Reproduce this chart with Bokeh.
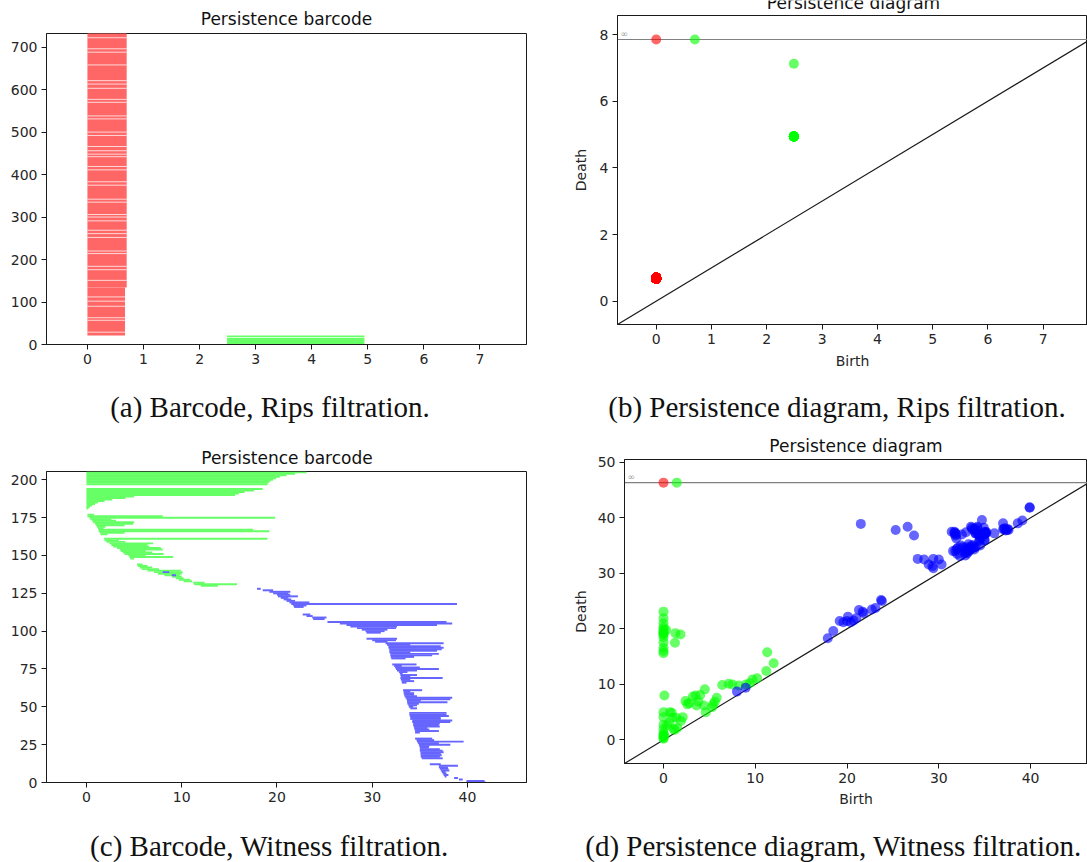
from bokeh.plotting import figure
from bokeh.layouts import row, column
from bokeh.models import Range1d, FixedTicker, Label, LinearAxis
from bokeh.core.properties import value
from bokeh.embed import file_html
from bokeh.resources import INLINE

# ---------------- colours ----------------
RED, GREEN, BLUE = "#ff0000", "#00ff00", "#0000ff"
RED_BAR, GREEN_BAR, BLUE_BAR = "#ff6666", "#66ff66", "#6666ff"   # alpha 0.6 on white
INK = "#1a1a1a"
TICK_TXT = "#262626"

# ---------------- Rips filtration ----------------
# H0 bars (born at 0): runs of consecutive bar indices sharing one death value
rips_h0_lo = [21, 134]
rips_h0_hi = [134, 733]
rips_h0_death = [0.67, 0.70]
# thin light seams visible between groups of H0 bars
rips_h0_seams = [722, 696, 688, 658, 621, 613, 603, 577, 570, 538, 531, 500, 492,
                 466, 456, 448, 442, 419, 411, 383, 375, 342, 335, 306, 300, 291,
                 269, 261, 252, 220, 214, 184, 176, 151, 112, 102, 90, 63, 57, 29]
# H1 bars in the barcode
rips_h1_lo = [0]
rips_h1_hi = [21]
rips_h1_birth = [2.49]
rips_h1_death = [4.94]
rips_h1_seams = [16.5]
# H1 diagram points and their multiplicity
rips_pt_birth = [2.49, 2.49]
rips_pt_death = [4.94, 7.12]
rips_pt_count = [21, 1]
# essential classes (plotted on the infinity line)
rips_inf_h0 = [0.0]
rips_inf_h1 = [0.70]
rips_infinity = 7.85

# ---------------- Witness filtration ----------------
# H1 bars: index, birth, death
w1_row = [205, 204, 203, 202, 201, 200, 199, 198, 197,
          194, 193, 192, 191, 190, 189, 188, 187, 186, 185, 184, 183, 182, 181,
          177, 176, 175, 174, 173, 172, 171, 170, 169, 168, 167, 166, 165, 164, 161,
          160, 159, 158, 157, 156, 155, 154, 153, 152, 151, 150, 149, 148,
          144, 143, 142, 141, 140, 139, 138, 137, 136, 135, 134, 133, 132, 131, 130]
w1_birth = [0, 0, 0, 0, 0, 0, 0, 0, 0,
            0, 0, 0, 0, 0, 0, 0, 0, 0, 0, 0, 0, 0, 0,
            0.1, 0.1, 0.3, 0.4, 0.6, 0.7, 0.9, 1.0, 1.1, 1.2, 1.25, 1.3, 1.4, 1.5, 1.85,
            1.9, 2.1, 2.4, 2.6, 2.8, 3.2, 3.5, 3.6, 3.8, 4.0, 4.4, 4.5, 4.6,
            5.3, 5.4, 5.6, 5.8, 6.4, 7.1, 7.5, 8.2, 9.0, 9.4, 9.7, 10.2, 11.2, 11.3, 12.0]
w1_death = [23.1, 21.9, 21.0, 20.3, 19.9, 19.6, 19.3, 19.1, 19.0,
            18.5, 17.6, 16.6, 16.0, 15.6, 5.0, 4.1, 2.7, 1.9, 1.2, 0.9, 0.6, 0.35, 0.2,
            0.8, 8.0, 19.8, 2.6, 3.1, 5.0, 4.9, 4.0, 2.0, 1.8, 17.5, 19.2, 4.0, 2.2, 19.0,
            3.4, 4.1, 7.0, 6.4, 6.6, 7.8, 8.0, 6.2, 6.9, 8.1, 6.2, 9.1, 5.0,
            5.9, 6.4, 6.9, 7.6, 9.9, 10.1, 10.0, 9.8, 10.0, 10.2, 10.9, 11.1, 12.4, 15.8, 13.8]

# H2 bars: index, birth, death
w2_row = [139, 137,
          128, 127, 126, 125, 124, 123, 122, 121, 120, 119, 118, 117, 116,
          111, 110, 109, 108,
          106, 105, 104, 103, 102, 101, 100, 99,
          95, 94, 93, 92, 91, 90, 89, 88, 87, 86, 85, 84, 83, 82,
          78, 77, 76, 75, 74, 73, 72, 71, 70, 69, 68, 67, 66,
          61, 60, 59, 58, 57, 56, 55, 54, 53, 52, 51, 50, 49,
          46, 45, 44, 43, 42, 41, 40, 39, 38, 37, 36, 35, 34, 33,
          29, 28, 27, 26, 25, 24, 23, 22, 21, 20, 19, 18, 17, 16,
          12, 11, 10, 9, 8, 7, 6, 5, 4, 3, 2, 1, 0]
w2_birth = [8.0, 8.95,
            17.9, 18.5, 19.2, 19.6, 20.0, 20.1, 20.4, 20.7, 21.0, 21.3, 21.5, 21.7, 21.8,
            22.7, 23.1, 23.7, 23.8,
            25.3, 26.6, 27.3, 27.7, 28.4, 28.9, 29.3, 29.4,
            29.4, 30.0, 30.3, 31.4, 31.55, 31.7, 31.7, 31.8, 31.8, 31.8, 31.9, 31.9, 31.95, 32.0,
            32.1, 32.3, 32.4, 32.5, 32.6, 32.8, 32.9, 32.96, 33.0, 32.96, 33.0, 33.1, 33.1,
            33.24, 33.3, 33.3, 33.35, 33.4, 33.5, 33.6, 33.65, 33.66, 33.7, 33.8, 33.85, 34.0,
            33.9, 33.9, 33.95, 34.0, 34.0, 34.2, 34.2, 34.3, 34.3, 34.35, 34.4, 34.45, 34.5, 34.5,
            34.5, 34.65, 34.7, 34.8, 34.9, 34.95, 35.0, 35.0, 35.0, 35.07, 35.07, 35.1, 35.1, 35.2,
            36.05, 37.0, 37.0, 37.1, 37.2, 37.3, 37.4, 37.5, 37.6, 38.6, 39.1, 39.9, 39.9]
w2_death = [8.7, 9.4,
            18.3, 19.6, 21.4, 21.2, 21.4, 22.2, 21.2, 21.5, 21.9, 23.4, 38.9, 23.1, 22.8,
            23.5, 23.75, 25.2, 25.0,
            37.8, 38.4, 36.8, 32.6, 32.5, 31.6, 31.3, 30.9,
            32.6, 32.5, 31.6, 37.5, 34.0, 37.2, 37.5, 37.3, 36.8, 34.0, 37.0, 36.3, 34.4, 33.5,
            34.65, 33.1, 35.0, 37.0, 34.7, 33.7, 33.2, 34.7, 34.0, 37.4, 34.0, 34.4, 33.6,
            35.24, 34.0, 34.4, 34.4, 34.7, 38.4, 38.2, 35.1, 37.9, 34.9, 34.7, 34.3, 34.7,
            37.8, 37.8, 38.05, 37.2, 37.2, 38.4, 38.2, 37.1, 37.0, 37.1, 35.8, 36.0, 37.0, 35.0,
            36.3, 36.5, 39.6, 37.0, 38.2, 36.0, 35.95, 37.1, 37.4, 37.5, 37.2, 37.3, 37.1, 37.4,
            37.2, 39.0, 37.95, 38.0, 38.1, 37.7, 37.8, 38.0, 37.8, 39.0, 39.5, 41.8, 41.9]

# essential classes of the witness complex
wit_inf_h0 = [0.0]
wit_inf_h1 = [1.45]
wit_infinity = 46.33

# ---------------- ticks ----------------
rips_bar_xticks = [0, 1, 2, 3, 4, 5, 6, 7]
rips_bar_yticks = [0, 100, 200, 300, 400, 500, 600, 700]
rips_dgm_xticks = [0, 1, 2, 3, 4, 5, 6, 7]
rips_dgm_yticks = [0, 2, 4, 6, 8]
wit_bar_xticks = [0, 10, 20, 30, 40]
wit_bar_yticks = [0, 25, 50, 75, 100, 125, 150, 175, 200]
wit_dgm_xticks = [0, 10, 20, 30, 40]
wit_dgm_yticks = [0, 10, 20, 30, 40, 50]

# ---------------- texts ----------------
panel_titles = ["Persistence barcode", "Persistence diagram",
                "Persistence barcode", "Persistence diagram"]
captions = ["(a) Barcode, Rips filtration.",
            "(b) Persistence diagram, Rips filtration.",
            "(c) Barcode, Witness filtration.",
            "(d) Persistence diagram, Witness filtration."]

SANS = "DejaVu Sans"
SERIF = "Liberation Serif"


def panel(canvas, frame, xr, yr, xticks, yticks):
    cx0, cy0, cw, ch = canvas
    fx0, fy0, fx1, fy1 = frame
    p = figure(width=cw, height=ch, x_range=Range1d(*xr), y_range=Range1d(*yr),
               min_border_left=fx0 - cx0, min_border_right=cx0 + cw - fx1,
               min_border_top=fy0 - cy0, min_border_bottom=cy0 + ch - fy1,
               toolbar_location=None, tools="", output_backend="svg", title=None,
               frame_align=False)
    p.background_fill_color = "white"
    p.border_fill_color = "white"
    p.outline_line_color = INK
    p.outline_line_width = 1
    p.xgrid.visible = False
    p.ygrid.visible = False
    for ax, ticks in ((p.below[0], xticks), (p.left[0], yticks)):
        ax.ticker = FixedTicker(ticks=ticks)
        ax.axis_line_color = INK
        ax.major_tick_line_color = INK
        ax.major_tick_in = 0
        ax.major_tick_out = 5
        ax.minor_tick_line_color = None
        ax.major_label_text_font = SANS
        ax.major_label_text_font_size = "14px"
        ax.major_label_text_color = TICK_TXT
        ax.major_label_standoff = 4
    return p


def strip(x0, y0, w, h, xs, ys, texts, font, size):
    """A bare canvas in page-pixel coordinates that only carries centred text."""
    s = figure(width=w, height=h, x_range=Range1d(x0, x0 + w), y_range=Range1d(y0 + h, y0),
               min_border=0, toolbar_location=None, tools="", output_backend="svg",
               title=None, x_axis_location=None, y_axis_location=None, frame_align=False)
    s.outline_line_color = None
    s.background_fill_color = "white"
    s.border_fill_color = "white"
    s.grid.visible = False
    s.text(x=xs, y=ys, text=texts, text_font=value(font), text_font_size=value(size),
           text_align="center", text_baseline="middle", text_color="#111111")
    return s


def title_above(p, text, standoff):
    """Panel heading drawn as the label of a bare axis above the frame."""
    ax = LinearAxis(ticker=FixedTicker(ticks=[]), axis_label=text,
                    axis_line_color=None, major_tick_line_color=None,
                    minor_tick_line_color=None, major_tick_out=0, major_tick_in=0,
                    major_label_text_font_size="0px", axis_label_standoff=standoff,
                    axis_label_text_font=SANS, axis_label_text_font_size="17px",
                    axis_label_text_font_style="normal", axis_label_text_color="#111111")
    p.add_layout(ax, "above")


def axis_labels(p, xlab_standoff, ylab_standoff):
    bottom, left = p.below[0], p.left[0]
    bottom.axis_label = "Birth"
    left.axis_label = "Death"
    for ax, s in ((bottom, xlab_standoff), (left, ylab_standoff)):
        ax.axis_label_text_font = SANS
        ax.axis_label_text_font_size = "14px"
        ax.axis_label_text_font_style = "normal"
        ax.axis_label_text_color = TICK_TXT
        ax.axis_label_standoff = s


def diagram_frame(p, xr, inf_value):
    # diagonal and infinity line
    p.line([xr[0], inf_value], [xr[0], inf_value], line_color=INK, line_width=1.2)
    p.line([xr[0], xr[1] + 1], [inf_value, inf_value], line_color="#808080", line_width=1.2)
    p.add_layout(Label(x=xr[0], y=inf_value, text="\u221e", x_offset=3, y_offset=1,
                       text_baseline="bottom", text_font=SANS,
                       text_font_size="9px", text_color="#9a9a9a"))


# ---------------- (a) Rips barcode ----------------
fa = (46, 33, 526, 344)
xa, ya = (-0.73, 7.83), (0, 732)
pa = panel((0, 32, 560, 353), fa, xa, ya, rips_bar_xticks, rips_bar_yticks)
pa.quad(left=[0] * len(rips_h0_lo), right=rips_h0_death, bottom=rips_h0_lo, top=rips_h0_hi,
        fill_color=RED_BAR, line_color=None)
pa.segment(x0=[0] * len(rips_h0_seams), x1=[max(rips_h0_death)] * len(rips_h0_seams),
           y0=rips_h0_seams, y1=rips_h0_seams, line_color="white", line_width=1, line_alpha=0.75)
pa.quad(left=rips_h1_birth, right=rips_h1_death, bottom=rips_h1_lo, top=rips_h1_hi,
        fill_color=GREEN_BAR, line_color=None)
pa.segment(x0=rips_h1_birth * len(rips_h1_seams), x1=rips_h1_death * len(rips_h1_seams),
           y0=rips_h1_seams, y1=rips_h1_seams, line_color="white", line_width=1, line_alpha=0.75)

# ---------------- (b) Rips diagram ----------------
fb = (617, 15, 1087, 324)
xb, yb = (-0.70, 7.80), (-0.70, 8.57)
pb = panel((560, 14, 527, 371), fb, xb, yb, rips_dgm_xticks, rips_dgm_yticks)
axis_labels(pb, 6, 8)
diagram_frame(pb, xb, rips_infinity)
h0x, h0y = [], []
for lo, hi, d in zip(rips_h0_lo, rips_h0_hi, rips_h0_death):
    h0x += [0.0] * (hi - lo)
    h0y += [d] * (hi - lo)
pb.scatter(h0x, h0y, size=10, fill_color=RED, fill_alpha=0.6, line_color=None)
pb.scatter(rips_inf_h0, [rips_infinity] * len(rips_inf_h0), size=10,
           fill_color=RED, fill_alpha=0.6, line_color=None)
h1x, h1y = [], []
for b, d, n in zip(rips_pt_birth, rips_pt_death, rips_pt_count):
    h1x += [b] * n
    h1y += [d] * n
pb.scatter(h1x, h1y, size=10, fill_color=GREEN, fill_alpha=0.6, line_color=None)
pb.scatter(rips_inf_h1, [rips_infinity] * len(rips_inf_h1), size=10,
           fill_color=GREEN, fill_alpha=0.6, line_color=None)

# ---------------- (c) Witness barcode ----------------
fc = (46, 471, 526, 782)
xc, yc = (-4.2, 46.2), (0, 205.5)
pc = panel((0, 470, 560, 345), fc, xc, yc, wit_bar_xticks, wit_bar_yticks)
pc.hbar(y=w1_row, left=w1_birth, right=w1_death, height=1.3, fill_color=GREEN_BAR, line_color=None)
pc.hbar(y=w2_row, left=w2_birth, right=w2_death, height=1.3, fill_color=BLUE_BAR, line_color=None)

# ---------------- (d) Witness diagram ----------------
fd = (624, 459, 1087, 763)
xd, yd = (-4.25, 46.2), (-4.25, 50.5)
pd = panel((560, 430, 527, 385), fd, xd, yd, wit_dgm_xticks, wit_dgm_yticks)
axis_labels(pd, 5, 6)
title_above(pd, panel_titles[3], 4)
diagram_frame(pd, xd, wit_infinity)
pd.scatter(w1_birth, w1_death, size=10, fill_color=GREEN, fill_alpha=0.6, line_color=None)
pd.scatter(w2_birth, w2_death, size=10, fill_color=BLUE, fill_alpha=0.6, line_color=None)
pd.scatter(wit_inf_h0, [wit_infinity] * len(wit_inf_h0), size=10,
           fill_color=RED, fill_alpha=0.6, line_color=None)
pd.scatter(wit_inf_h1, [wit_infinity] * len(wit_inf_h1), size=10,
           fill_color=GREEN, fill_alpha=0.6, line_color=None)

# ---------------- titles and captions (centres in page pixels) ----------------
ta = strip(0, 0, 560, 32, [286], [18.5], panel_titles[0:1], SANS, "17px")
tb = strip(560, 0, 527, 14, [853], [2.5], panel_titles[1:2], SANS, "17px")
tc = strip(0, 430, 560, 40, [286.5], [457], panel_titles[2:3], SANS, "17px")
cap1 = strip(0, 385, 1087, 45, [269.5, 836.5], [406, 406], captions[0:2], SERIF, "29px")
cap2 = strip(0, 815, 1087, 47, [269, 833], [845, 845], captions[2:4], SERIF, "29px")

layout = column(row(column(ta, pa), column(tb, pb)), cap1,
                row(column(tc, pc), pd), cap2)
open("out.html", "w").write(file_html(layout, INLINE))
